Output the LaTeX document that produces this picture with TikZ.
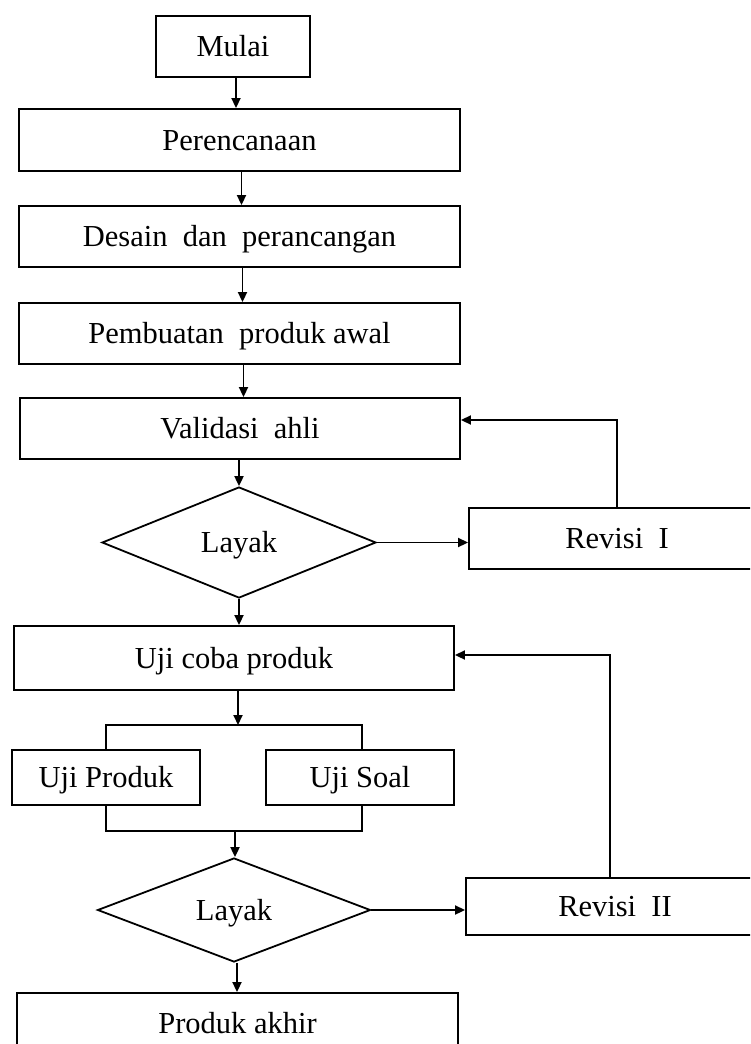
\documentclass[tikz,border=0pt]{standalone}
\usepackage{fontspec}
\setmainfont{Liberation Serif}
\usetikzlibrary{shapes.geometric,arrows.meta}
\newcommand{\wsp}{\hspace{0.5em}}
\begin{document}
\begin{tikzpicture}[x=1pt,y=-1pt,
  line width=1.9pt,
  every node/.style={font=\fontsize{30.5}{36}\selectfont, text height=20pt, text depth=0pt, inner sep=0pt},
  box/.style={draw, rectangle, line width=1.9pt},
  decision/.style={draw, diamond, aspect=2.5, line width=1.8pt},
  arr/.style={line width=1.9pt, -{Triangle[length=10pt,width=9pt]}}]
\useasboundingbox (0,0) rectangle (750,1044);
\clip (0,0) rectangle (750,1044);
\fill[white] (0,0) rectangle (750,1044);

\node[box, minimum width=154pt, minimum height=61pt] (mulai) at (233,46.5) {Mulai};
\node[box, minimum width=441pt, minimum height=62pt] (plan) at (239.5,140) {Perencanaan};
\node[box, minimum width=441pt, minimum height=61pt] (desain) at (239.5,236.5) {Desain\wsp dan\wsp perancangan};
\node[box, minimum width=441pt, minimum height=61pt] (buat) at (239.5,333.5) {Pembuatan\wsp produk awal};
\node[box, minimum width=440pt, minimum height=61pt] (valid) at (240,428.5) {Validasi\wsp ahli};
\node[decision, minimum width=274pt, minimum height=111pt] (d1) at (239,542.5) {Layak};
\node[box, minimum width=296pt, minimum height=61pt] (rev1) at (617,538.5) {Revisi\wsp I};
\node[box, minimum width=440pt, minimum height=64pt] (ujicoba) at (234,658) {Uji coba produk};
\node[box, minimum width=188pt, minimum height=55pt] (ujiprod) at (106,777.5) {Uji Produk};
\node[box, minimum width=188pt, minimum height=55pt] (ujisoal) at (360,777.5) {Uji Soal};
\node[decision, minimum width=273pt, minimum height=104pt] (d2) at (234,910) {Layak};
\node[box, minimum width=298pt, minimum height=57pt] (rev2) at (615,906.5) {Revisi\wsp II};
\node[box, minimum width=441pt, minimum height=60pt] (akhir) at (237.5,1023) {Produk akhir};

\coordinate (btop) at (238,725);
\coordinate (bbot) at (235,831);

\draw[arr] ([xshift=3pt]mulai.south) -- ([xshift=3pt]mulai.south |- plan.north);
\draw[arr] ([xshift=2pt]plan.south) -- ([xshift=2pt]plan.south |- desain.north);
\draw[arr] ([xshift=3pt]desain.south) -- ([xshift=3pt]desain.south |- buat.north);
\draw[arr] ([xshift=4pt]buat.south) -- ([xshift=4pt]buat.south |- valid.north);
\draw[arr] (valid.south -| d1.north) -- (d1.north);
\draw[arr] (d1.south) -- (d1.south |- ujicoba.north);
\draw[arr] (d1.east) -- (d1.east -| rev1.west);
\draw[arr] (rev1.north) |- ([yshift=8.5pt]valid.east);

\draw[arr] (btop |- ujicoba.south) -- (btop);
\draw (ujiprod.north) |- (btop) -| ([xshift=2pt]ujisoal.north);
\draw (ujiprod.south) |- (bbot) -| ([xshift=2pt]ujisoal.south);
\draw[arr] (bbot) -- (bbot |- d2.north);
\draw[arr] (d2.east) -- (d2.east -| rev2.west);
\draw[arr] ([xshift=-5pt]rev2.north) |- ([yshift=3pt]ujicoba.east);
\draw[arr] ([xshift=3pt]d2.south) -- ([xshift=3pt]d2.south |- akhir.north);
\end{tikzpicture}
\end{document}
